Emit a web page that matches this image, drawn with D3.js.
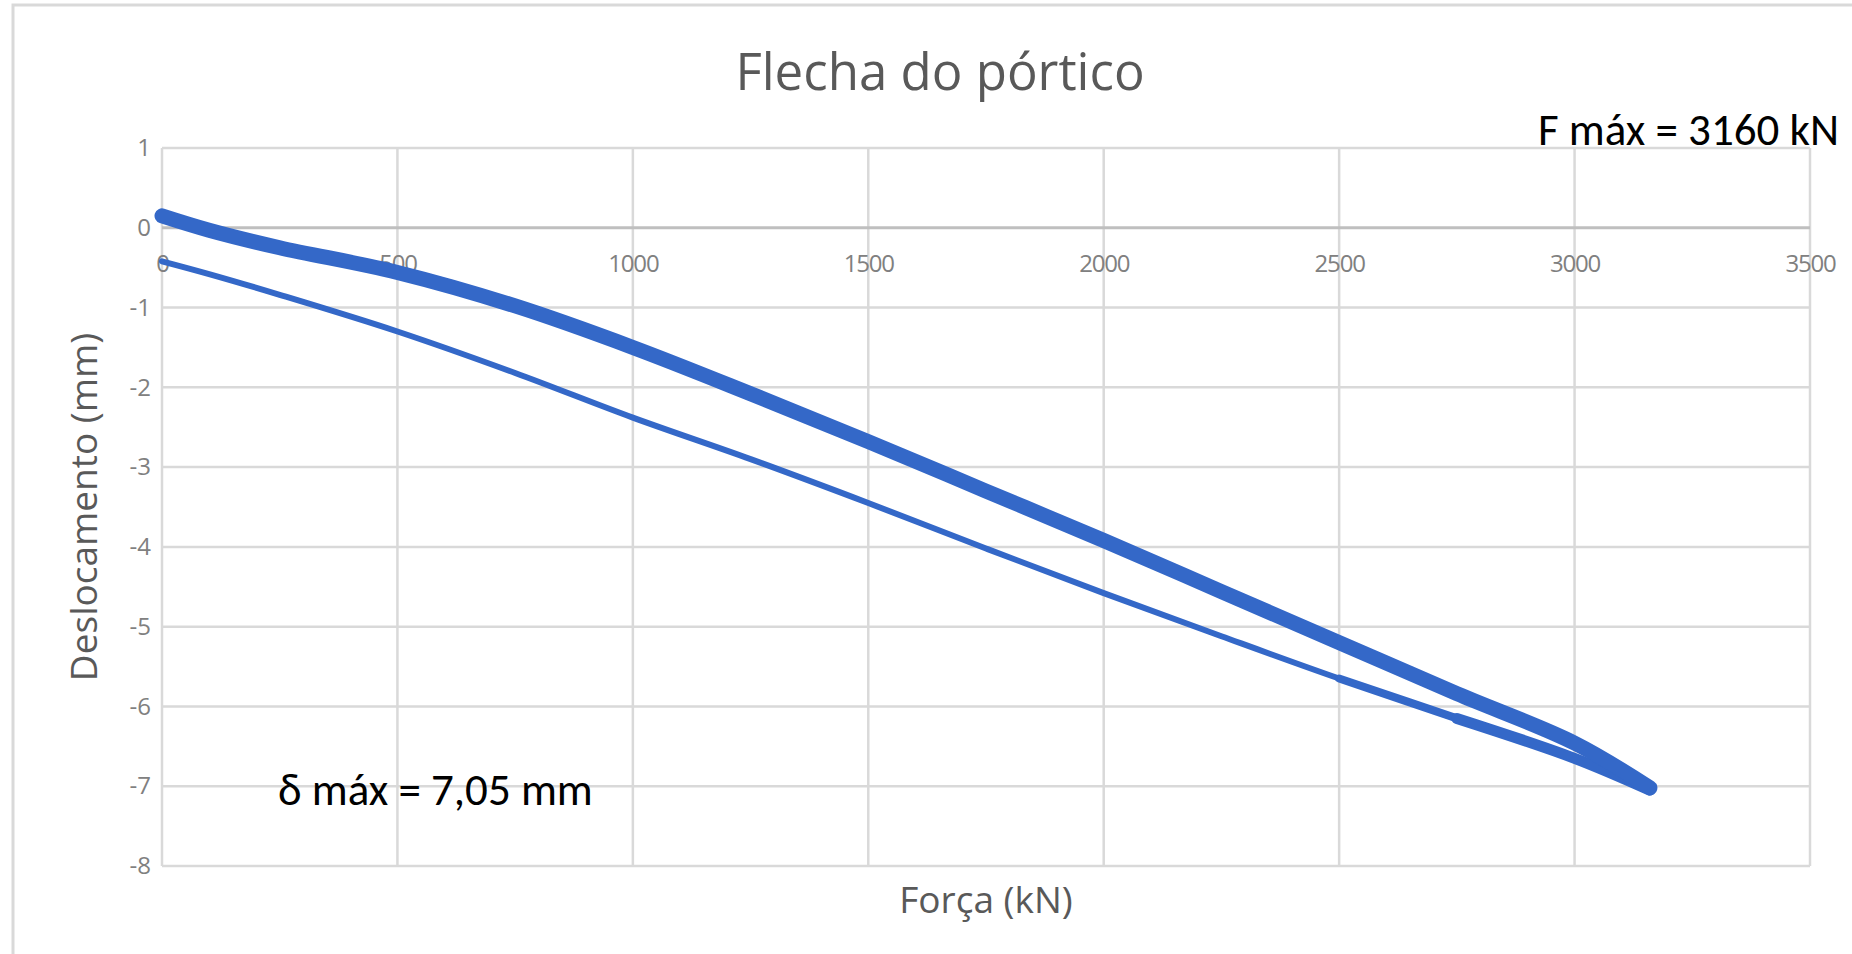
<!DOCTYPE html>
<html><head><meta charset="utf-8">
<script src="https://cdn.jsdelivr.net/npm/d3@7/dist/d3.min.js"></script>
<style>body{margin:0;background:#fff;overflow:hidden} svg{display:block}</style>
</head><body><svg id="c" width="1852" height="954"></svg>
<script>
const chartTitle = "Flecha do pórtico";
const xTitle = "Força (kN)";
const yTitle = "Deslocamento (mm)";
const noteForce = "F máx = 3160 kN";
const noteDisp = "δ máx = 7,05 mm";
const xTicks = [0, 500, 1000, 1500, 2000, 2500, 3000, 3500];
const yTicks = [1, 0, -1, -2, -3, -4, -5, -6, -7, -8];
// loading branch (upper, thick band)
const loadForce = [0, 100, 250, 500, 750, 1000, 1250, 1500, 1750, 2000, 2250, 2500, 2750, 3000, 3160];
const loadDisp  = [0.15, -0.03, -0.25, -0.56, -0.98, -1.5, -2.08, -2.68, -3.3, -3.92, -4.56, -5.2, -5.84, -6.46, -7.02];
// unloading branch (lower, thin line)
const unloadForce = [3160, 3000, 2750, 2500, 2250, 2000, 1750, 1500, 1250, 1000, 750, 500, 250, 100, 0];
const unloadDisp  = [-7.05, -6.65, -6.15, -5.65, -5.12, -4.58, -4.02, -3.45, -2.9, -2.38, -1.82, -1.3, -0.84, -0.58, -0.42];

const W = 1852, H = 954;
const L = 162, R = 1810, T = 148, B = 866;
const svg = d3.select("#c");
const x = d3.scaleLinear().domain([0, 3500]).range([L, R]);
const y = d3.scaleLinear().domain([-8, 1]).range([B, T]);
const grid = "#d9d9d9", txt = "#595959", tick = "#808080", blue = "#3468c8";
const fontUI = "'Open Sans', 'Noto Sans', sans-serif";
const fontNote = "Carlito, 'Liberation Sans Narrow', Roboto, sans-serif";

svg.append("rect").attr("width", W).attr("height", H).attr("fill", "#fff");
svg.append("rect").attr("x", 13).attr("y", 5).attr("width", W).attr("height", H)
  .attr("fill", "none").attr("stroke", "#d9d9d9").attr("stroke-width", 3);

// gridlines
svg.append("g").selectAll("line").data(xTicks).join("line")
  .attr("x1", d => x(d)).attr("x2", d => x(d)).attr("y1", T).attr("y2", B)
  .attr("stroke", grid).attr("stroke-width", 2.5);
svg.append("g").selectAll("line").data(yTicks).join("line")
  .attr("x1", L).attr("x2", R).attr("y1", d => y(d)).attr("y2", d => y(d))
  .attr("stroke", d => d === 0 ? "#bfbfbf" : grid).attr("stroke-width", d => d === 0 ? 3 : 2.5);

// axes labels
const xa = svg.append("g").attr("transform", `translate(0,${y(0)})`)
  .call(d3.axisBottom(x).tickValues(xTicks).tickSize(0).tickPadding(27).tickFormat(d => String(d)));
xa.select(".domain").remove();
xa.selectAll("text").attr("font-family", fontUI).attr("font-size", 24).attr("fill", tick).attr("letter-spacing", -1.2);

const ya = svg.append("g").attr("transform", `translate(${L},0)`)
  .call(d3.axisLeft(y).tickValues(yTicks).tickSize(0).tickPadding(11).tickFormat(d => String(d)));
ya.select(".domain").remove();
ya.selectAll("text").attr("font-family", fontUI).attr("font-size", 24).attr("fill", tick);

// series
const line = d3.line().x(d => x(d[0])).y(d => y(d[1])).curve(d3.curveCatmullRom.alpha(0.5));
const loadPts = loadForce.map((f, i) => [f, loadDisp[i]]);
const unloadPts = unloadForce.map((f, i) => [f, unloadDisp[i]]);
const round = p => p.attr("fill", "none").attr("stroke", blue)
  .attr("stroke-linejoin", "round").attr("stroke-linecap", "round");
svg.append("path").attr("d", line(unloadPts)).call(round).attr("stroke-width", 6);
svg.append("path").attr("d", line(unloadPts.slice(0, 4))).call(round).attr("stroke-width", 8);
svg.append("path").attr("d", line(unloadPts.slice(0, 3))).call(round).attr("stroke-width", 11);
svg.append("path").attr("d", line(loadPts)).call(round).attr("stroke-width", 15);

// titles
svg.append("text").attr("x", 940).attr("y", 90).attr("text-anchor", "middle")
  .attr("font-family", fontUI).attr("font-size", 51).attr("fill", txt).text(chartTitle);
svg.append("text").attr("x", (L + R) / 2).attr("y", 913).attr("text-anchor", "middle")
  .attr("font-family", fontUI).attr("font-size", 37).attr("fill", txt).text(xTitle);
svg.append("text").attr("transform", `translate(97,${(T + B) / 2}) rotate(-90)`).attr("text-anchor", "middle")
  .attr("font-family", fontUI).attr("font-size", 37).attr("fill", txt).text(yTitle);

// annotations
svg.append("text").attr("x", 1839).attr("y", 145).attr("text-anchor", "end")
  .attr("font-family", fontNote).attr("font-size", 45).attr("fill", "#000").text(noteForce);
svg.append("text").attr("x", 278).attr("y", 805)
  .attr("font-family", fontNote).attr("font-size", 45).attr("fill", "#000").text(noteDisp);
</script></body></html>
